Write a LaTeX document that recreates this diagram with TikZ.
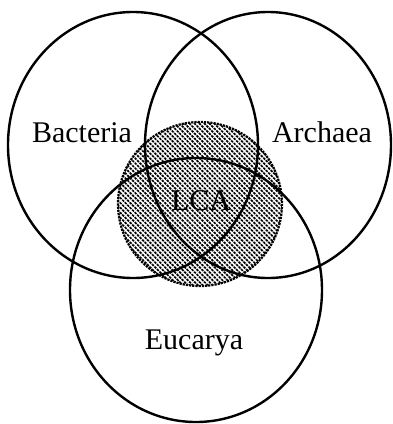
\documentclass[tikz,border=0pt]{standalone}
\usepackage{fontspec}
\setmainfont{Liberation Serif}
\usetikzlibrary{patterns.meta}
\begin{document}
\begin{tikzpicture}[
    x=1pt, y=-1pt,
    kingdom/.style={line width=2.4pt, black},
    ancestor/.style={densely dotted, line width=2.2pt,
                     pattern={Lines[angle=-45, distance=3.5pt, line width=1.7pt]}},
    label/.style={font=\fontsize{30}{36}\selectfont, anchor=base, inner sep=0pt},
]
\useasboundingbox (0,0) rectangle (393,424);

% Hatched region of the last common ancestor
\draw[ancestor] (200,204) circle[radius=82];

% The three domains
\draw[kingdom] (133,145) ellipse[x radius=125, y radius=133];
\draw[kingdom] (268,145) ellipse[x radius=123, y radius=133];
\draw[kingdom] (196,290) ellipse[x radius=126, y radius=132];

% Labels
\node[label] (bacteria) at (82,142) {Bacteria};
\node[label] (archaea) at (322,142) {Archaea};
\node[label] (eucarya) at (194,349) {Eucarya};
\node[label] (lca) at (201,210) {LCA};
\end{tikzpicture}
\end{document}
